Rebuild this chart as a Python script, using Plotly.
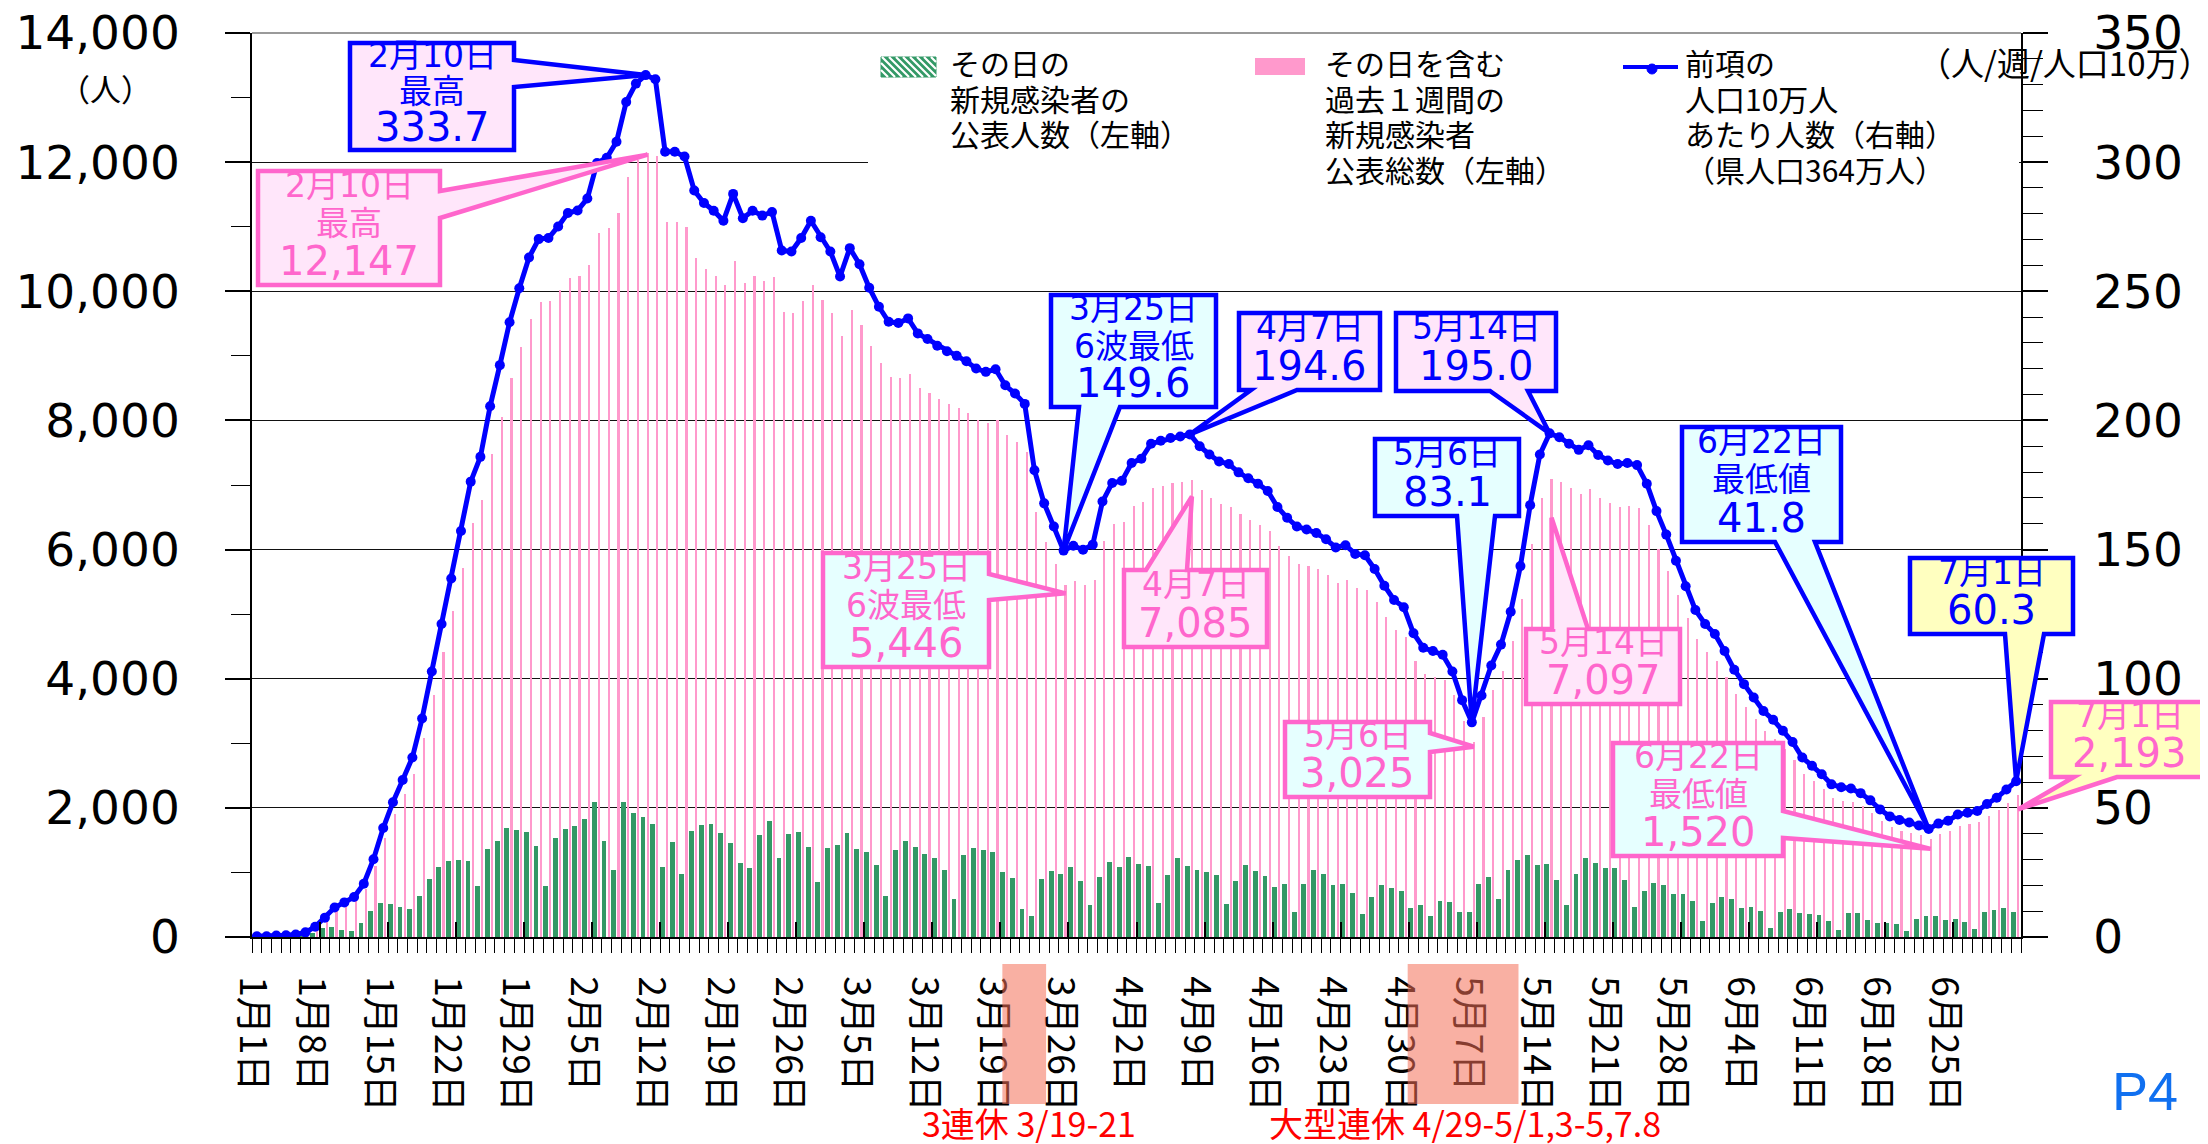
import plotly.graph_objects as go
import pandas as pd

# ---------------- data ----------------
start = pd.Timestamp(2022, 1, 1)
dates = pd.date_range(start, "2022-07-01", freq="D")
days = list(range(len(dates)))  # 0 = 1月1日 ... 181 = 7月1日

tick_labels = ["1月1日", "1月8日", "1月15日", "1月22日", "1月29日", "2月5日", "2月12日",
               "2月19日", "2月26日", "3月5日", "3月12日", "3月19日", "3月26日", "4月2日",
               "4月9日", "4月16日", "4月23日", "4月30日", "5月7日", "5月14日", "5月21日",
               "5月28日", "6月4日", "6月11日", "6月18日", "6月25日"]

# daily newly announced cases (left axis)
daily = [3, 4, 12, 8, 14, 30, 62,
         140, 150, 104, 88, 218, 399, 528,
         513, 461, 435, 642, 901, 1077, 1171,
         1186, 1171, 787, 1368, 1492, 1684, 1658,
         1621, 1409, 787, 1538, 1668, 1715, 1829,
         2088, 1492, 1041, 2088, 1927, 1860, 1746,
         1077, 1476, 979, 1637, 1735, 1751, 1606,
         1461, 1140, 1062, 1575, 1797, 1222, 1590,
         1621, 1393, 850, 1383, 1430, 1606, 1368,
         1316, 1109, 642, 1347, 1492, 1393, 1285,
         1222, 1041, 596, 1269, 1378, 1347, 1316,
         1010, 917, 435, 321, 901, 1026, 979,
         1077, 865, 497, 932, 1155, 1077, 1233,
         1124, 1093, 528, 963, 1222, 1093, 1041,
         1010, 963, 513, 865, 1109, 1026, 948,
         772, 818, 383, 818, 1041, 979, 803,
         818, 689, 352, 627, 803, 756, 705,
         451, 497, 321, 565, 544, 383, 383,
         818, 932, 591, 1041, 1186, 1269, 1109,
         1124, 881, 497, 979, 1222, 1140, 1062,
         1062, 881, 461, 705, 834, 803, 673,
         673, 559, 254, 528, 627, 591, 445,
         461, 399, 140, 383, 430, 368, 352,
         337, 254, 109, 368, 368, 269, 223,
         223, 207, 93, 285, 321, 321, 269,
         285, 238, 124, 383, 414, 445, 383]

# weekly totals including that day (left axis)
weekly = [11, 11, 22, 25, 36, 66, 146,
          273, 415, 488, 564, 750, 1096, 1536,
          1900, 2213, 2530, 3079, 3742, 4412, 5052,
          5722, 6417, 6767, 7480, 8059, 8663, 9144,
          9577, 9835, 9850, 10014, 10203, 10239, 10407,
          10909, 10982, 11208, 11768, 12027, 12147, 12088,
          11066, 11066, 11000, 10520, 10345, 10236, 10094,
          10472, 10130, 10236, 10167, 10217, 9675, 9661,
          9850, 10094, 9861, 9661, 9307, 9708, 9482,
          9151, 8882, 8670, 8652, 8718, 8507, 8427,
          8332, 8256, 8190, 8114, 8012, 7964, 8001,
          7775, 7659, 7513, 6577, 6112, 5784, 5446,
          5515, 5456, 5529, 6137, 6399, 6428, 6679,
          6741, 6952, 6992, 7032, 7054, 7085, 6916,
          6800, 6701, 6665, 6548, 6465, 6388, 6286,
          6061, 5908, 5784, 5744, 5693, 5606, 5489,
          5522, 5398, 5380, 5187, 4950, 4750, 4648,
          4281, 4077, 4029, 3979, 3742, 3338, 3025,
          3403, 3826, 4120, 4583, 5227, 6086, 6800,
          7097, 7043, 6952, 6865, 6931, 6792, 6716,
          6665, 6679, 6650, 6388, 6002, 5671, 5303,
          4943, 4608, 4412, 4270, 4029, 3767, 3564,
          3374, 3185, 3061, 2908, 2748, 2530, 2413,
          2293, 2151, 2111, 2093, 2027, 1926, 1798,
          1700, 1649, 1613, 1572, 1520, 1598, 1638,
          1725, 1751, 1776, 1875, 1962, 2078, 2193]

# weekly cases per 100k population (right axis)
per100k = [0.3, 0.3, 0.6, 0.7, 1.0, 1.8, 4.0,
           7.5, 11.4, 13.4, 15.5, 20.6, 30.1, 42.2,
           52.2, 60.8, 69.5, 84.6, 102.8, 121.2, 138.8,
           157.2, 176.3, 185.9, 205.5, 221.4, 238.0, 251.2,
           263.1, 270.2, 270.6, 275.1, 280.3, 281.3, 285.9,
           299.7, 301.7, 307.9, 323.3, 330.4, 333.7, 332.1,
           304.0, 304.0, 302.2, 289.0, 284.2, 281.2, 277.3,
           287.7, 278.3, 281.2, 279.3, 280.7, 265.8, 265.4,
           270.6, 277.3, 270.9, 265.4, 255.7, 266.7, 260.5,
           251.4, 244.0, 238.2, 237.7, 239.5, 233.7, 231.5,
           228.9, 226.8, 225.0, 222.9, 220.1, 218.8, 219.8,
           213.6, 210.4, 206.4, 180.7, 167.9, 158.9, 149.6,
           151.5, 149.9, 151.9, 168.6, 175.8, 176.6, 183.5,
           185.2, 191.0, 192.1, 193.2, 193.8, 194.6, 190.0,
           186.8, 184.1, 183.1, 179.9, 177.6, 175.5, 172.7,
           166.5, 162.3, 158.9, 157.8, 156.4, 154.0, 150.8,
           151.7, 148.3, 147.8, 142.5, 136.0, 130.5, 127.7,
           117.6, 112.0, 110.7, 109.3, 102.8, 91.7, 83.1,
           93.5, 105.1, 113.2, 125.9, 143.6, 167.2, 186.8,
           195.0, 193.5, 191.0, 188.6, 190.4, 186.6, 184.5,
           183.1, 183.5, 182.7, 175.5, 164.9, 155.8, 145.7,
           135.8, 126.6, 121.2, 117.3, 110.7, 103.5, 97.9,
           92.7, 87.5, 84.1, 79.9, 75.5, 69.5, 66.3,
           63.0, 59.1, 58.0, 57.5, 55.7, 52.9, 49.4,
           46.7, 45.3, 44.3, 43.2, 41.8, 43.9, 45.0,
           47.4, 48.1, 48.8, 51.5, 53.9, 57.1, 60.3]

# ---------------- styles ----------------
BLUE = "#0000FF"
PINK_BAR = "#FF99CC"
PINK_TXT = "#FF66CC"
GREEN = "#339966"
BG_PINK = "#FFE6FA"
BG_CYAN = "#E6FFFF"
BG_YEL = "#FFFFC0"
JP = "Noto Sans CJK JP"
NUMJP = "DejaVu Sans, Noto Sans CJK JP"

W, H = 2208, 1144
PL, PR, PT, PB = 244, 2013, 25, 929
XMIN, XMAX = -0.5, len(days) - 0.5
YMAX_L, YMAX_R = 14000, 350
TDY = -6  # visual centring correction for text (px)


def fx(px):
    return (px - PL) / (PR - PL)


def fy(py):
    return (PB - py) / (PB - PT)


def dxp(d):
    return (d - XMIN) / (XMAX - XMIN)


def day_of(m, d):
    return (pd.Timestamp(2022, m, d) - start).days


shapes = []
annotations = []


def text(px, py, t, size, color="black", family=JP, xanchor="center"):
    annotations.append(dict(xref="paper", yref="paper", x=fx(px), y=fy(py + TDY), text=t,
                            showarrow=False, xanchor=xanchor, yanchor="middle",
                            font=dict(size=size, color=color, family=family)))


def callout(box, side, base, tip, border, bg, tcolor, lines, sizes):
    x0, y0, x1, y1 = box
    X0, X1, Y0, Y1 = fx(x0), fx(x1), fy(y0), fy(y1)
    tx, ty = tip
    if side == "right":
        a, b = fy(base[0]), fy(base[1])
        pts = [(X0, Y0), (X1, Y0), (X1, a), (tx, ty), (X1, b), (X1, Y1), (X0, Y1)]
    elif side == "bottom":
        a, b = fx(base[0]), fx(base[1])
        pts = [(X0, Y0), (X1, Y0), (X1, Y1), (b, Y1), (tx, ty), (a, Y1), (X0, Y1)]
    else:  # top
        a, b = fx(base[0]), fx(base[1])
        pts = [(X0, Y0), (a, Y0), (tx, ty), (b, Y0), (X1, Y0), (X1, Y1), (X0, Y1)]
    path = "M " + " L ".join(f"{x:.5f},{y:.5f}" for x, y in pts) + " Z"
    shapes.append(dict(type="path", xref="paper", yref="paper", path=path,
                       fillcolor=bg, line=dict(color=border, width=4.5), layer="above"))
    n = len(lines)
    pitch = (y1 - y0) / n
    for i, (t, s) in enumerate(zip(lines, sizes)):
        text((x0 + x1) / 2, y0 + pitch * (i + 0.5) + 1, t, s, tcolor, NUMJP)


def blue_tip(d):
    return (dxp(d), per100k[d] / YMAX_R)


def pink_tip(d, drop_px=0):
    return (dxp(d + 0.2), weekly[d] / YMAX_L - drop_px / (PB - PT))


def fmt(v):
    return f"{v:,}"


# ---------------- traces ----------------
fig = go.Figure()
fig.add_trace(go.Bar(x=days, y=weekly, width=0.22, offset=0.09, marker_color=PINK_BAR,
                     marker_line_width=0, showlegend=False, yaxis="y"))
fig.add_trace(go.Bar(x=days, y=daily, width=0.5, offset=-0.53, marker_color=GREEN,
                     marker_line_width=0, showlegend=False, yaxis="y"))
fig.add_trace(go.Scatter(x=days, y=per100k, yaxis="y2", mode="lines+markers",
                         line=dict(color=BLUE, width=5), marker=dict(size=10, color=BLUE),
                         showlegend=False))
# helper trace for the weekly major-tick axis
fig.add_trace(go.Scatter(x=[None], y=[None], xaxis="x2", yaxis="y", showlegend=False,
                         hoverinfo="skip"))

# ---------------- callouts ----------------
d = day_of(2, 10)
callout((342, 35, 506, 142), "right", (52, 79), blue_tip(d), BLUE, BG_PINK, BLUE,
        ["2月10日", "最高", f"{per100k[d]:.1f}"], [33, 33, 40])
callout((250, 163, 432, 277), "right", (183, 210), pink_tip(d, 2), PINK_TXT, BG_PINK, PINK_TXT,
        ["2月10日", "最高", fmt(weekly[d])], [33, 33, 40])
d = day_of(3, 25)
callout((1043, 287, 1208, 399), "bottom", (1071, 1112), blue_tip(d), BLUE, BG_CYAN, BLUE,
        ["3月25日", "6波最低", f"{per100k[d]:.1f}"], [33, 33, 40])
callout((815, 545, 981, 659), "right", (566, 592), pink_tip(d, 8), PINK_TXT, BG_CYAN, PINK_TXT,
        ["3月25日", "6波最低", fmt(weekly[d])], [33, 33, 40])
d = day_of(4, 7)
callout((1231, 305, 1372, 382), "bottom", (1243, 1289), blue_tip(d), BLUE, BG_PINK, BLUE,
        ["4月7日", f"{per100k[d]:.1f}"], [33, 40])
callout((1116, 562, 1259, 639), "top", (1138, 1179), pink_tip(d, 17), PINK_TXT, BG_PINK, PINK_TXT,
        ["4月7日", fmt(weekly[d])], [33, 40])
d = day_of(5, 14)
callout((1388, 305, 1548, 383), "bottom", (1482, 1520), blue_tip(d), BLUE, BG_PINK, BLUE,
        ["5月14日", f"{per100k[d]:.1f}"], [33, 40])
callout((1518, 621, 1672, 696), "top", (1544, 1580), pink_tip(d, 39), PINK_TXT, BG_PINK, PINK_TXT,
        ["5月14日", fmt(weekly[d])], [33, 40])
d = day_of(5, 6)
callout((1367, 431, 1511, 508), "bottom", (1449, 1487), blue_tip(d), BLUE, BG_CYAN, BLUE,
        ["5月6日", f"{per100k[d]:.1f}"], [33, 40])
callout((1277, 714, 1422, 789), "right", (725, 744), pink_tip(d, 5), PINK_TXT, BG_CYAN, PINK_TXT,
        ["5月6日", fmt(weekly[d])], [33, 40])
d = day_of(6, 22)
callout((1674, 419, 1833, 534), "bottom", (1767, 1807), blue_tip(d), BLUE, BG_CYAN, BLUE,
        ["6月22日", "最低値", f"{per100k[d]:.1f}"], [33, 33, 40])
callout((1605, 735, 1775, 848), "right", (803, 830), pink_tip(d, 10), PINK_TXT, BG_CYAN, PINK_TXT,
        ["6月22日", "最低値", fmt(weekly[d])], [33, 33, 40])
d = day_of(7, 1)
callout((1902, 550, 2065, 626), "bottom", (1997, 2036), blue_tip(d), BLUE, BG_YEL, BLUE,
        ["7月1日", f"{per100k[d]:.1f}"], [33, 40])
callout((2043, 694, 2200, 769), "bottom", (2066, 2109), pink_tip(d, 14), PINK_TXT, BG_YEL, PINK_TXT,
        ["7月1日", fmt(weekly[d])], [33, 40])

# ---------------- top border (grey) ----------------
shapes.append(dict(type="line", xref="paper", yref="paper", x0=0, x1=1, y0=1, y1=1,
                   line=dict(color="#9a9a9a", width=2), layer="above"))

# ---------------- legend (manual) ----------------
shapes.append(dict(type="rect", xref="paper", yref="paper", x0=fx(860), x1=fx(2011),
                   y0=fy(30), y1=fy(185), fillcolor="white", line=dict(width=0), layer="above"))
# green hatched swatch
gx0, gy0, gx1, gy1 = 873, 49, 928, 69
shapes.append(dict(type="rect", xref="paper", yref="paper", x0=fx(gx0), x1=fx(gx1),
                   y0=fy(gy0), y1=fy(gy1), fillcolor=GREEN, line=dict(color=GREEN, width=1),
                   layer="above"))
segs = []
hh = gy1 - gy0
for xs in range(gx0 - hh, gx1, 7):
    s_lo = max(0.0, (gx0 - xs) / hh)
    s_hi = min(1.0, (gx1 - xs) / hh)
    if s_lo < s_hi:
        segs.append(f"M {fx(xs + hh * s_lo):.5f},{fy(gy0 + hh * s_lo):.5f} "
                    f"L {fx(xs + hh * s_hi):.5f},{fy(gy0 + hh * s_hi):.5f}")
shapes.append(dict(type="path", xref="paper", yref="paper", path=" ".join(segs),
                   line=dict(color="white", width=2.2), layer="above"))
# pink swatch
shapes.append(dict(type="rect", xref="paper", yref="paper", x0=fx(1247), x1=fx(1297),
                   y0=fy(50), y1=fy(67), fillcolor=PINK_BAR, line=dict(width=0), layer="above"))
# blue line swatch
shapes.append(dict(type="line", xref="paper", yref="paper", x0=fx(1615), x1=fx(1670),
                   y0=fy(59), y1=fy(59), line=dict(color=BLUE, width=4), layer="above"))
shapes.append(dict(type="circle", xref="paper", yref="paper", x0=fx(1639), x1=fx(1649),
                   y0=fy(56), y1=fy(66), fillcolor=BLUE, line=dict(color=BLUE, width=1),
                   layer="above"))

legend_items = [
    (940, ["その日の", "新規感染者の", "公表人数（左軸）"]),
    (1315, ["その日を含む", "過去１週間の", "新規感染者", "公表総数（左軸）"]),
    (1675, ["前項の", "人口10万人", "あたり人数（右軸）", "（県人口364万人）"]),
]
for lx, lines in legend_items:
    for i, t in enumerate(lines):
        text(lx, 60 + 35.5 * i, t, 30, "black", JP, "left")

# axis unit labels
text(97, 85, "（人）", 31)
text(2206, 60, "（人/週/人口10万）", 33, xanchor="right")

# holiday highlight boxes under the date labels
for (da, db) in [(76.7, 81.2), (118.4, 129.8)]:
    shapes.append(dict(type="rect", xref="paper", yref="paper", x0=dxp(da), x1=dxp(db),
                       y0=fy(956), y1=fy(1096), fillcolor="rgba(244,112,88,0.55)",
                       line=dict(width=0), layer="above"))
text(1021, 1120, "3連休 3/19-21", 34, "#FF0000")
text(1457, 1120, "大型連休 4/29-5/1,3-5,7.8", 34, "#FF0000")
text(2137, 1089, "P4", 54, "#1070F0", "Liberation Sans")

# date labels: drawn slightly left of each weekly boundary, as in the original
label_pos = [max(7 * k - 1.4, XMIN) for k in range(len(tick_labels))]

# ---------------- layout ----------------
fig.update_layout(
    width=W, height=H,
    margin=dict(l=PL, r=W - PR, t=PT, b=H - PB, autoexpand=False),
    paper_bgcolor="white", plot_bgcolor="white",
    barmode="overlay", bargap=0,
    showlegend=False,
    shapes=shapes, annotations=annotations,
    xaxis=dict(range=[XMIN, XMAX], tickmode="array", automargin=False,
               tickvals=label_pos,
               ticktext=tick_labels, ticks="", tickangle=90, ticklabelstandoff=30,
               ticklabeloverflow="allow",
               tickfont=dict(size=37, family=JP, color="black"),
               showline=True, linecolor="black", linewidth=1.5,
               showgrid=False, zeroline=False,
               minor=dict(tick0=0.5, dtick=1, ticks="outside", ticklen=14,
                          tickcolor="black", tickwidth=1)),
    xaxis2=dict(range=[XMIN, XMAX], overlaying="x", anchor="y", side="bottom",
                tickmode="array", tickvals=[7 * k - 0.5 for k in range(len(tick_labels) + 1)],
                ticks="inside", ticklen=15, tickwidth=1.5, tickcolor="black",
                showticklabels=False, showline=False, showgrid=False, zeroline=False,
                automargin=False),
    yaxis=dict(range=[0, YMAX_L], tickmode="array", tickvals=list(range(0, YMAX_L + 1, 2000)),
               automargin=False, ticklabeloverflow="allow",
               tickformat=",", ticks="outside", ticklen=25, tickwidth=1.5, tickcolor="black",
               showline=True, linecolor="black", linewidth=1.5,
               showgrid=True, gridcolor="#111111", gridwidth=1.2, zeroline=False,
               ticklabelstandoff=36,
               tickfont=dict(size=47, family="DejaVu Sans", color="black"),
               minor=dict(tick0=0, dtick=1000, ticks="outside", ticklen=19,
                          tickcolor="black", tickwidth=1.2, showgrid=False)),
    yaxis2=dict(range=[0, YMAX_R], overlaying="y", side="right", tickmode="array",
                tickvals=list(range(0, YMAX_R + 1, 50)),
                automargin=False, ticklabeloverflow="allow",
                ticks="outside", ticklen=25, tickwidth=1.5, tickcolor="black",
                showline=True, linecolor="black", linewidth=1.5,
                showgrid=False, zeroline=False, ticklabelstandoff=36,
                tickfont=dict(size=47, family="DejaVu Sans", color="black"),
                minor=dict(tick0=0, dtick=10, ticks="outside", ticklen=20,
                           tickcolor="black", tickwidth=1.2)),
)

fig.write_html("out.html")
